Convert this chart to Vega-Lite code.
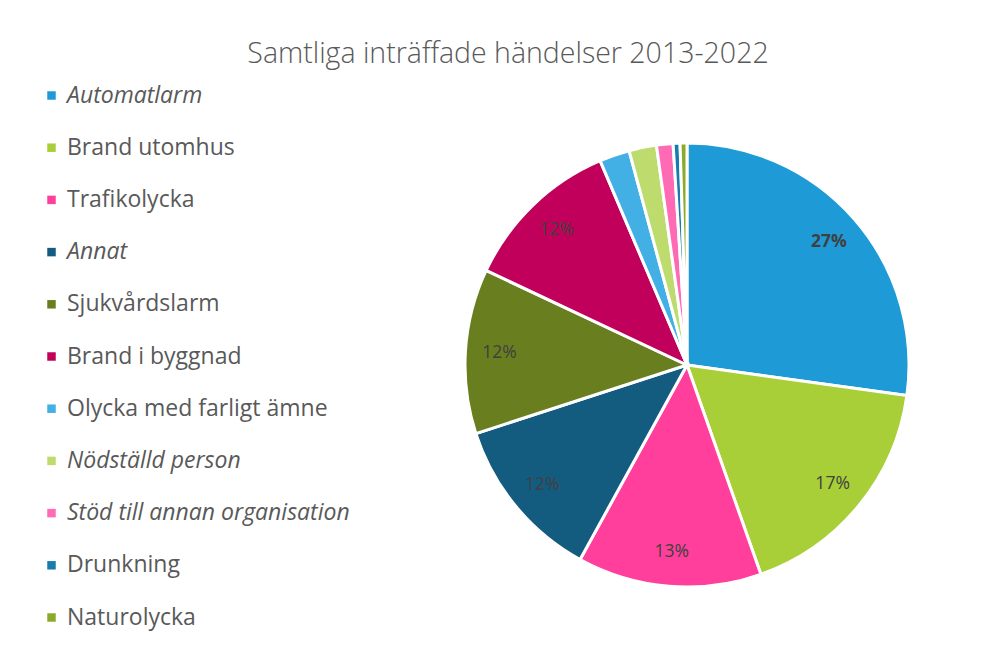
{
  "$schema": "https://vega.github.io/schema/vega-lite/v6.json",
  "autosize": "none",
  "width": 444,
  "height": 444,
  "padding": {"left": 465, "top": 143, "right": 87, "bottom": 58},
  "background": "white",
  "title": {
    "text": "Samtliga inträffade händelser 2013-2022",
    "font": "Open Sans",
    "fontWeight": 300,
    "fontSize": 28.5,
    "color": "#595959",
    "anchor": "middle",
    "dx": -179,
    "offset": 16
  },
  "config": {"view": {"stroke": null}},
  "data": {
    "values": [
      {"n": 1, "typ": "Automatlarm", "andel": 0.272},
      {"n": 2, "typ": "Brand utomhus", "andel": 0.174},
      {"n": 3, "typ": "Trafikolycka", "andel": 0.134},
      {"n": 4, "typ": "Annat", "andel": 0.120},
      {"n": 5, "typ": "Sjukvårdslarm", "andel": 0.120},
      {"n": 6, "typ": "Brand i byggnad", "andel": 0.116},
      {"n": 7, "typ": "Olycka med farligt ämne", "andel": 0.022},
      {"n": 8, "typ": "Nödställd person", "andel": 0.020},
      {"n": 9, "typ": "Stöd till annan organisation", "andel": 0.012},
      {"n": 10, "typ": "Drunkning", "andel": 0.005},
      {"n": 11, "typ": "Naturolycka", "andel": 0.005}
    ]
  },
  "encoding": {
    "theta": {"field": "andel", "type": "quantitative", "stack": true},
    "order": {"field": "n", "type": "quantitative"}
  },
  "layer": [
    {
      "mark": {"type": "arc", "outerRadius": 222, "stroke": "white", "strokeWidth": 3},
      "encoding": {
        "color": {
          "field": "typ",
          "type": "nominal",
          "sort": ["Automatlarm", "Brand utomhus", "Trafikolycka", "Annat", "Sjukvårdslarm", "Brand i byggnad", "Olycka med farligt ämne", "Nödställd person", "Stöd till annan organisation", "Drunkning", "Naturolycka"],
          "scale": {
            "domain": ["Automatlarm", "Brand utomhus", "Trafikolycka", "Annat", "Sjukvårdslarm", "Brand i byggnad", "Olycka med farligt ämne", "Nödställd person", "Stöd till annan organisation", "Drunkning", "Naturolycka"],
            "range": ["#1E9BD7", "#A8CF38", "#FF3F9B", "#135C80", "#697F1F", "#C0005A", "#42B0E5", "#BEDC6E", "#FF6AB4", "#1A7AAE", "#8CAA2A"]
          },
          "legend": {
            "title": null,
            "orient": "none",
            "legendX": -425,
            "legendY": -59,
            "symbolType": "square",
            "symbolSize": 72,
            "symbolStrokeWidth": 0,
            "labelFont": "Open Sans",
            "labelFontSize": 23,
            "labelColor": "#595959",
            "labelOffset": 4,
            "rowPadding": 28.2,
            "labelLimit": 400,
            "labelFontStyle": {"expr": "indexof(['Automatlarm','Annat','Nödställd person','Stöd till annan organisation'], datum.label) >= 0 ? 'italic' : 'normal'"}
          }
        }
      }
    },
    {
      "mark": {"type": "text", "radius": 188, "font": "Open Sans", "fontSize": 17.5, "color": "#404040"},
      "encoding": {
        "text": {
          "condition": {"test": "datum.andel > 0.05 && datum.typ != 'Automatlarm'", "field": "andel", "type": "quantitative", "format": ".0%"},
          "value": ""
        }
      }
    },
    {
      "mark": {"type": "text", "radius": 188, "font": "Open Sans", "fontSize": 17.5, "fontWeight": "bold", "color": "#404040"},
      "encoding": {
        "text": {
          "condition": {"test": "datum.typ == 'Automatlarm'", "field": "andel", "type": "quantitative", "format": ".0%"},
          "value": ""
        }
      }
    }
  ]
}
